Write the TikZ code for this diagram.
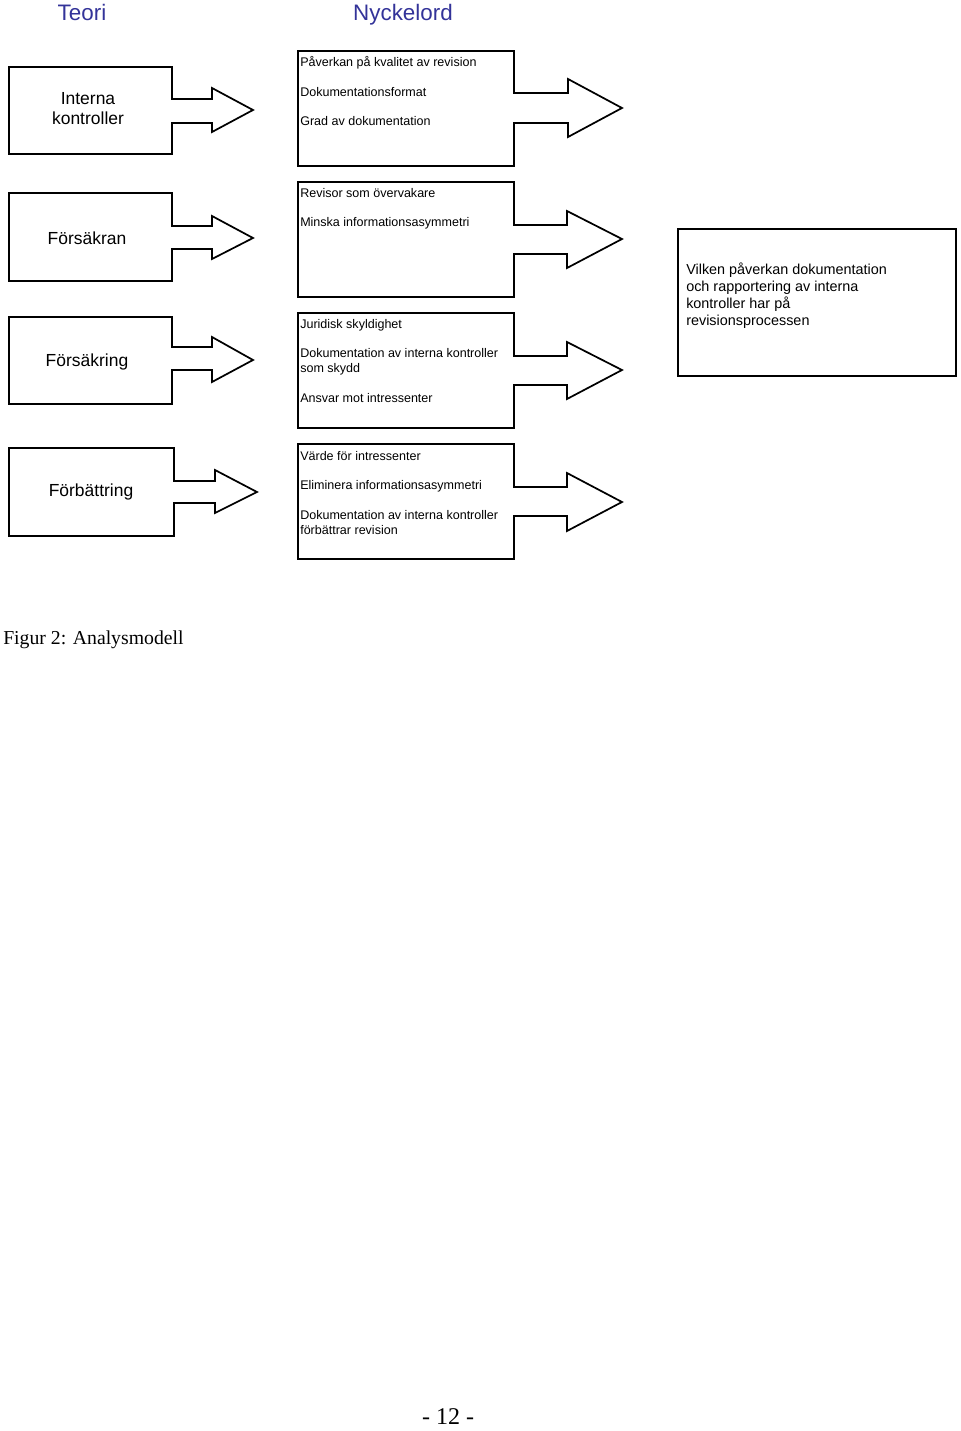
\documentclass[tikz,border=0pt]{standalone}
\usepackage{fontspec}
\setmainfont{Liberation Sans}
\newfontfamily\seriffont{Liberation Serif}
\definecolor{titleblue}{RGB}{51,51,153}
\begin{document}
\begin{tikzpicture}[x=0.75pt,y=-0.75pt,
  shape line/.style={draw=black,line width=1.3pt,line join=miter,fill=white},
  title/.style={text=titleblue,font=\fontsize{16.8}{20}\selectfont,inner sep=0pt,anchor=base},
  bigtext/.style={font=\fontsize{13.1}{15}\selectfont,align=center,inner sep=0pt},
  smalltext/.style={font=\fontsize{9.4}{11.25}\selectfont,align=left,anchor=west,inner sep=0pt},
  righttext/.style={font=\fontsize{10.8}{12.75}\selectfont,align=left,anchor=west,inner sep=0pt}]
\useasboundingbox[fill=white] (0,0) rectangle (960,1431);

% titles
\node[title] (teori) at (82,21) {Teori};
\node[title] (nyckelord) at (403,21) {Nyckelord};

% left callouts
\draw[shape line] (9,67) -- (172,67) -- (172,99) -- (212,99) -- (212,88) -- (253,110) -- (212,132) -- (212,123) -- (172,123) -- (172,154) -- (9,154) -- cycle;
\draw[shape line] (9,193) -- (172,193) -- (172,226) -- (212,226) -- (212,216) -- (253,238) -- (212,259) -- (212,249) -- (172,249) -- (172,281) -- (9,281) -- cycle;
\draw[shape line] (9,317) -- (172,317) -- (172,347) -- (212,347) -- (212,337) -- (253,360) -- (212,382) -- (212,370) -- (172,370) -- (172,404) -- (9,404) -- cycle;
\draw[shape line] (9,448) -- (174,448) -- (174,481) -- (215,481) -- (215,470) -- (257,492) -- (215,513) -- (215,503) -- (174,503) -- (174,536) -- (9,536) -- cycle;

\node[bigtext] (interna) at (88,109) {Interna\\kontroller};
\node[bigtext] (forsakran) at (87,238) {Försäkran};
\node[bigtext] (forsakring) at (87,362) {Försäkring};
\node[bigtext] (forbattring) at (91,492) {Förbättring};

% middle callouts
\draw[shape line] (298,51) -- (514,51) -- (514,93) -- (568,93) -- (568,79) -- (622,108) -- (568,137) -- (568,123) -- (514,123) -- (514,166) -- (298,166) -- cycle;
\draw[shape line] (298,182) -- (514,182) -- (514,225) -- (567,225) -- (567,211) -- (622,239) -- (567,268) -- (567,254) -- (514,254) -- (514,297) -- (298,297) -- cycle;
\draw[shape line] (298,313) -- (514,313) -- (514,356) -- (567,356) -- (567,342) -- (622,370) -- (567,399) -- (567,385) -- (514,385) -- (514,428) -- (298,428) -- cycle;
\draw[shape line] (298,444) -- (514,444) -- (514,487) -- (567,487) -- (567,473) -- (622,502) -- (567,531) -- (567,516) -- (514,516) -- (514,559) -- (298,559) -- cycle;

\node[smalltext] (a1) at (300,63) {Påverkan på kvalitet av revision};
\node[smalltext] (a2) at (300,92) {Dokumentationsformat};
\node[smalltext] (a3) at (300,121) {Grad av dokumentation};

\node[smalltext] (b1) at (300,193) {Revisor som övervakare};
\node[smalltext] (b2) at (300,223) {Minska informationsasymmetri};

\node[smalltext] (c1) at (300,325) {Juridisk skyldighet};
\node[smalltext] (c2) at (300,361.5) {Dokumentation av interna kontroller\\som skydd};
\node[smalltext] (c3) at (300,398) {Ansvar mot intressenter};

\node[smalltext] (d1) at (300,456) {Värde för intressenter};
\node[smalltext] (d2) at (300,486) {Eliminera informationsasymmetri};
\node[smalltext] (d3) at (300,522.5) {Dokumentation av interna kontroller\\förbättrar revision};

% right box
\draw[shape line] (678,229) rectangle (956,376);
\node[righttext] (result) at (686,295.5) {Vilken påverkan dokumentation\\och rapportering av interna\\kontroller har på\\revisionsprocessen};

% caption and page number
\node[anchor=west,inner sep=0pt,font=\seriffont\fontsize{14.8}{17}\selectfont] (caption) at (3,640) {Figur 2: Analysmodell};
\node[anchor=base,inner sep=0pt,font=\seriffont\fontsize{18}{20}\selectfont] (page) at (448,1424) {- 12 -};
\end{tikzpicture}
\end{document}
